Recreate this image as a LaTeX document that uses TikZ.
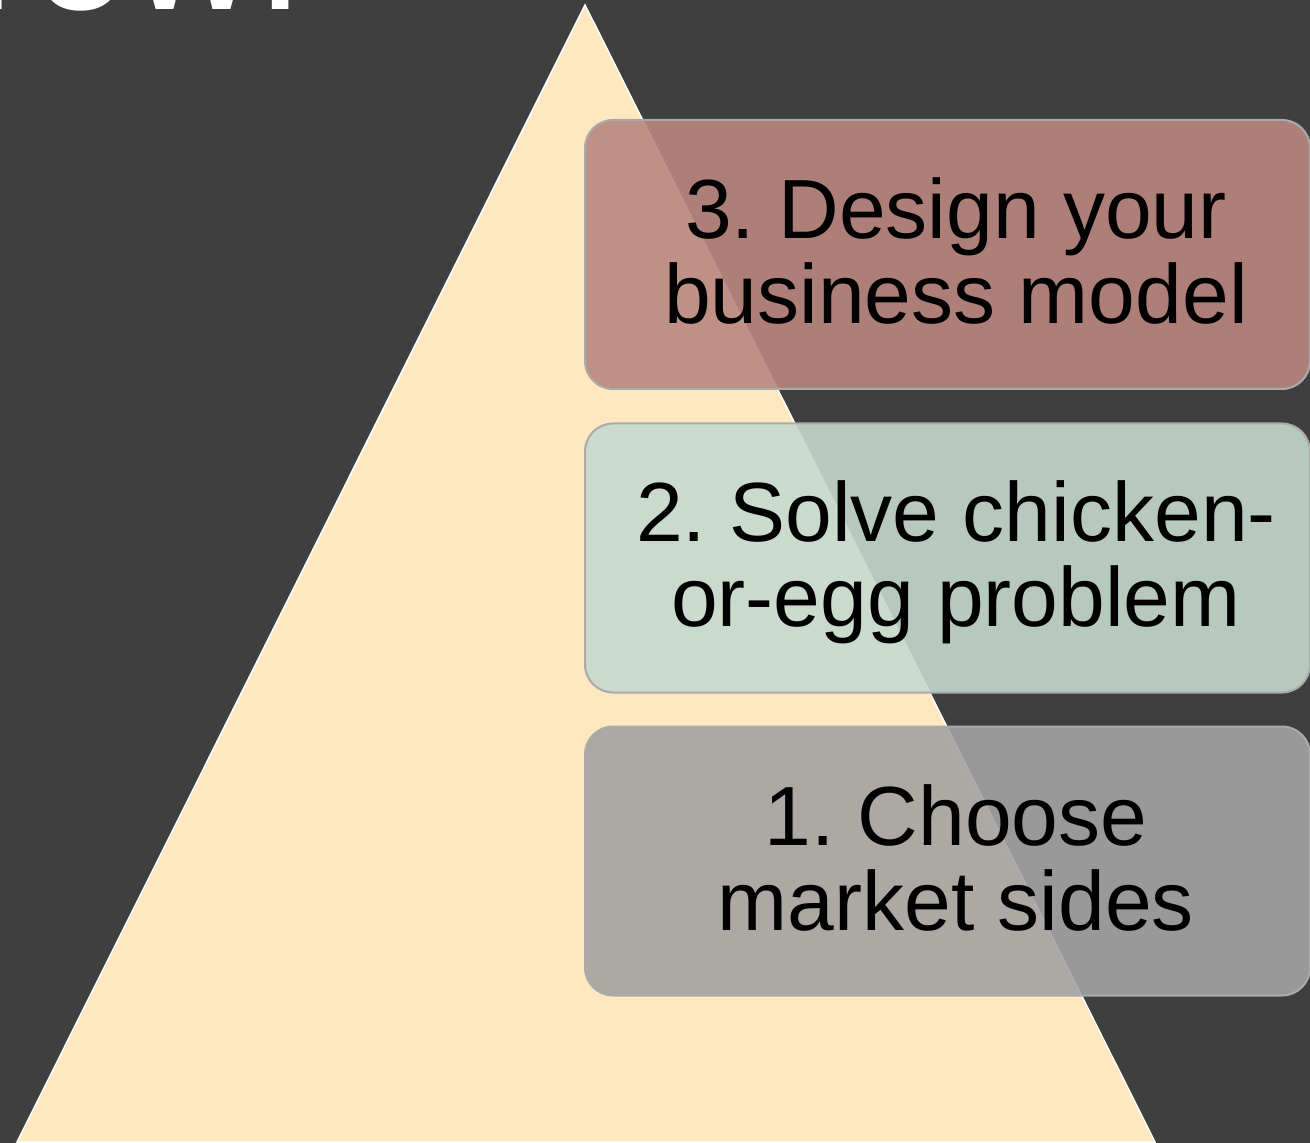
\documentclass[tikz,border=0pt]{standalone}
\usepackage{fontspec}
\setmainfont{Liberation Sans}
\frenchspacing

\definecolor{slidebg}{RGB}{63,63,63}
\definecolor{sand}{RGB}{255,231,192}
\definecolor{rosy}{RGB}{185,135,127}
\definecolor{sage}{RGB}{197,217,206}
\definecolor{stone}{RGB}{163,163,163}
\definecolor{rim}{RGB}{170,170,170}

\tikzset{
  pyramid/.style={draw=white,line width=0.75pt,fill=sand},
  tier/.style={draw=rim,line width=1pt,rounded corners=14pt,fill opacity=0.9,
    inner sep=0pt,minimum width=362.5pt,minimum height=134.5pt},
  tiertext/.style={inner sep=0pt,align=center,text=black,
    font=\fontsize{42pt}{42.5pt}\selectfont},
  headline/.style={inner sep=0pt,anchor=base west,text=white,
    font=\fontsize{87.5pt}{90pt}\selectfont}
}

\begin{document}
\begin{tikzpicture}[x=0.5pt,y=-0.5pt]
\useasboundingbox[fill=slidebg] (0,0) rectangle (1310,1143);

%title, only its foot shows at the top edge
\node[headline] (head) at (-162,10) {Grow!};

%pyramid
\coordinate (apex) at (585,5);
\coordinate (baseL) at (17,1142);
\coordinate (baseR) at (1155,1142);
\draw[pyramid] (apex) -- (baseR) -- (baseL) -- cycle;

%steps, bottom up
\node[tier,fill=stone] (b1) at (947.5,861) {};
\node[tiertext] (t1) at (956,857.5) {1. Choose\\market sides};

\node[tier,fill=sage] (b2) at (947.5,558) {};
\node[tiertext] (t2) at (956,561.8) {2. Solve chicken-\\or-egg problem};

\node[tier,fill=rosy] (b3) at (947.5,254.5) {};
\node[tiertext] (t3) at (956,250.5) {3. Design your\\business model};
\end{tikzpicture}
\end{document}
